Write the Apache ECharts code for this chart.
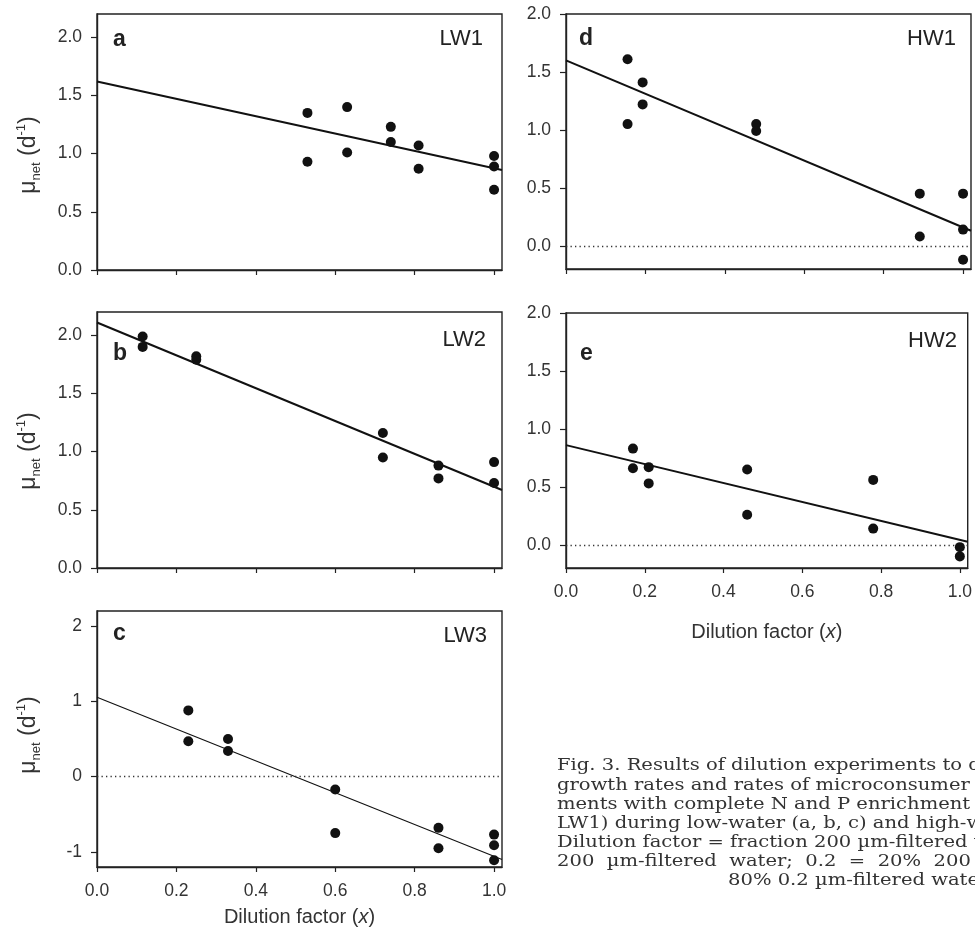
<!DOCTYPE html>
<html>
<head>
<meta charset="utf-8">
<script src="https://cdn.jsdelivr.net/npm/echarts@6/dist/echarts.min.js"></script>
<style>html,body{margin:0;padding:0;background:#fff}#chart{width:975px;height:928px}</style>
</head>
<body>
<div id="chart"></div>
<script>
// dilution factor / net growth readings per experiment
var lw1X = [0.53, 0.53, 0.63, 0.63, 0.74, 0.74, 0.81, 0.81, 1.0, 1.0, 1.0];
var lw1Y = [1.35, 0.93, 1.40, 1.01, 1.23, 1.10, 1.07, 0.87, 0.98, 0.89, 0.69];
var lw2X = [0.115, 0.115, 0.25, 0.25, 0.72, 0.72, 0.86, 0.86, 1.0, 1.0];
var lw2Y = [1.99, 1.90, 1.82, 1.79, 1.16, 0.95, 0.88, 0.77, 0.91, 0.73];
var lw3X = [0.23, 0.23, 0.33, 0.33, 0.60, 0.60, 0.86, 0.86, 1.0, 1.0, 1.0];
var lw3Y = [0.88, 0.47, 0.50, 0.34, -0.17, -0.75, -0.68, -0.95, -0.77, -0.91, -1.11];
var hw1X = [0.155, 0.155, 0.193, 0.193, 0.479, 0.479, 0.891, 0.891, 1.0, 1.0, 1.0];
var hw1Y = [1.61, 1.05, 1.41, 1.22, 1.05, 0.99, 0.45, 0.08, 0.45, 0.14, -0.12];
var hw2X = [0.17, 0.17, 0.21, 0.21, 0.46, 0.46, 0.78, 0.78, 1.0, 1.0];
var hw2Y = [0.83, 0.66, 0.67, 0.53, 0.65, 0.26, 0.56, 0.14, -0.02, -0.10];

// regression lines, read at x = 0 and at the right frame edge
var fitX = [0, 1.02];
var lw1Fit = [1.62, 0.86];
var lw2Fit = [2.11, 0.67];
var lw3Fit = [1.055, -1.10];
var hw1Fit = [1.60, 0.13];
var hw2Fit = [0.86, 0.026];

var xTicks = [0, 0.2, 0.4, 0.6, 0.8, 1.0];
var yTicksLow = [0, 0.5, 1.0, 1.5, 2.0];
var yTicksLW3 = [-1, 0, 1, 2];
var yTicksHigh = [0, 0.5, 1.0, 1.5, 2.0];

var panelLetters = ['a', 'b', 'c', 'd', 'e'];
var panelNames = ['LW1', 'LW2', 'LW3', 'HW1', 'HW2'];

var captionLines = [
    'Fig. 3. Results of dilution experiments to d',
    'growth rates and rates of microconsumer b',
    'ments with complete N and P enrichment',
    'LW1) during low-water (a, b, c) and high-w',
    'Dilution factor = fraction 200 \u00b5m-filtered w',
    '200  \u00b5m-filtered  water;  0.2  =  20%  200  \u00b5',
    '80% 0.2 \u00b5m-filtered wate'
];

var ink = '#222';
var sans = 'Liberation Sans, Arial, sans-serif';

function zip(xs, ys) {
    var out = [];
    for (var i = 0; i < xs.length; i++) out.push([xs[i], ys[i]]);
    return out;
}

var grids = [
    {left: 97, top: 14, width: 405, height: 256},
    {left: 97, top: 312, width: 405, height: 256},
    {left: 97, top: 611, width: 405, height: 256},
    {left: 566, top: 14, width: 405, height: 255},
    {left: 566, top: 313, width: 405, height: 255}
];
var yRanges = [[0, 2.2], [0, 2.2], [-1.2, 2.2], [-0.2, 2.0], [-0.2, 2.0]];
var yTickSets = [yTicksLow, yTicksLow, yTicksLW3, yTicksHigh, yTicksHigh];
var showXLab = [false, false, true, false, true];
var xNameGap = [0, 0, 40, 0, 54];
var pointSets = [zip(lw1X, lw1Y), zip(lw2X, lw2Y), zip(lw3X, lw3Y), zip(hw1X, hw1Y), zip(hw2X, hw2Y)];
var fitSets = [lw1Fit, lw2Fit, lw3Fit, hw1Fit, hw2Fit];
var fitWidth = [2, 2, 1.1, 2, 2];
var zeroLine = [false, false, true, true, true];

var xAxes = [], yAxes = [], series = [], gridOpts = [];
for (var i = 0; i < 5; i++) {
    gridOpts.push({
        left: grids[i].left, top: grids[i].top, width: grids[i].width, height: grids[i].height,
        show: true, borderColor: ink, borderWidth: 1.4, backgroundColor: 'transparent',
        containLabel: false
    });
    xAxes.push({
        type: 'value', gridIndex: i, min: 0, max: 1.02,
        axisLine: {onZero: false, lineStyle: {color: ink, width: 1.4}},
        axisTick: {length: 5, lineStyle: {color: ink, width: 1.2}, customValues: xTicks},
        axisLabel: {
            show: showXLab[i], customValues: xTicks, margin: 15,
            color: '#333', fontSize: 17.5, fontFamily: sans,
            formatter: function (v) { return v.toFixed(1); }
        },
        splitLine: {show: false},
        name: showXLab[i] ? '{n|Dilution factor (}{i|x}{n|)}' : '',
        nameLocation: 'middle', nameGap: xNameGap[i],
        nameTextStyle: {
            rich: {
                n: {fontSize: 20, fontFamily: sans, color: '#333'},
                i: {fontSize: 20, fontFamily: sans, color: '#333', fontStyle: 'italic'}
            }
        }
    });
    yAxes.push({
        type: 'value', gridIndex: i, min: yRanges[i][0], max: yRanges[i][1],
        axisLine: {onZero: false, lineStyle: {color: ink, width: 1.4}},
        axisTick: {length: 6, lineStyle: {color: ink, width: 1.2}, customValues: yTickSets[i]},
        axisLabel: {
            customValues: yTickSets[i], margin: 15,
            color: '#333', fontSize: 17.5, fontFamily: sans,
            // LW3 panel uses integers, the others one decimal
            formatter: (i === 2)
                ? function (v) { return String(Math.round(v)); }
                : function (v) { return v.toFixed(1); }
        },
        splitLine: {show: false}
    });

    var sc = {
        type: 'scatter', xAxisIndex: i, yAxisIndex: i,
        data: pointSets[i], symbolSize: 10,
        itemStyle: {color: '#111', opacity: 1}, z: 5, silent: true
    };
    if (zeroLine[i]) {
        sc.markLine = {
            silent: true, symbol: 'none', label: {show: false},
            lineStyle: {type: [1.3, 3.2], color: '#333', width: 1.3},
            emphasis: {disabled: true},
            data: [{yAxis: 0}]
        };
    }
    series.push(sc);
    series.push({
        type: 'line', xAxisIndex: i, yAxisIndex: i,
        data: zip(fitX, fitSets[i]), symbol: 'none', clip: true,
        lineStyle: {color: '#111', width: fitWidth[i]}, z: 4, silent: true
    });
}

var graphics = [];
var letterPos = [[113, 40], [113, 354], [113, 634], [579, 39], [580, 354]];
var namePos = [[483, 39], [486, 340], [487, 636], [956, 39], [957, 341]];
for (var k = 0; k < 5; k++) {
    graphics.push({
        type: 'text', x: letterPos[k][0], y: letterPos[k][1], silent: true,
        style: {text: panelLetters[k], fontSize: 23, fontWeight: 'bold', fontFamily: sans,
                fill: ink, align: 'left', verticalAlign: 'middle'}
    });
    graphics.push({
        type: 'text', x: namePos[k][0], y: namePos[k][1], silent: true,
        style: {text: panelNames[k], fontSize: 22, fontFamily: sans,
                fill: ink, align: 'right', verticalAlign: 'middle'}
    });
}

// y axis titles (left column only)
var yTitleY = [155, 451, 735];
for (var m = 0; m < 3; m++) {
    graphics.push({
        type: 'text', x: 29, y: yTitleY[m], rotation: Math.PI / 2, silent: true,
        style: {
            text: '{m|\u03bc}{s|net}{m| (d}{p|-1}{m|)}',
            align: 'center', verticalAlign: 'middle',
            rich: {
                m: {fontSize: 23, fontFamily: sans, fill: '#333', lineHeight: 28},
                s: {fontSize: 13, fontFamily: sans, fill: '#333', lineHeight: 28, verticalAlign: 'bottom'},
                p: {fontSize: 13, fontFamily: sans, fill: '#333', lineHeight: 28, verticalAlign: 'top'}
            }
        }
    });
}

// figure caption, cut by the right edge as in the source
var capX = [557, 557, 557, 557, 557, 557, 728];
var capY = [766, 785.5, 804.5, 823.5, 843, 862, 881];
for (var c = 0; c < captionLines.length; c++) {
    graphics.push({
        type: 'text', x: capX[c], y: capY[c], scaleX: 1.15, silent: true,
        style: {text: captionLines[c], fontSize: 17, fontFamily: 'DejaVu Serif, serif',
                fill: '#333', align: 'left', verticalAlign: 'middle'}
    });
}

var chart = echarts.init(document.getElementById('chart'));
chart.setOption({
    animation: false,
    backgroundColor: '#fff',
    grid: gridOpts,
    xAxis: xAxes,
    yAxis: yAxes,
    series: series,
    graphic: graphics
});
</script>
</body>
</html>
